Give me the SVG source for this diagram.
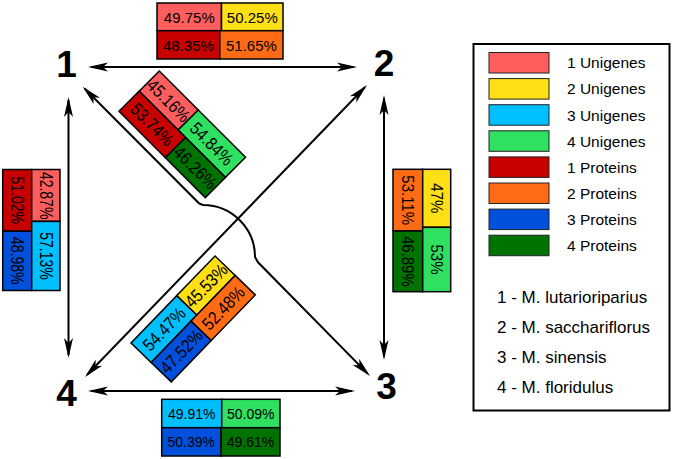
<svg xmlns="http://www.w3.org/2000/svg" width="675" height="459" viewBox="0 0 675 459">
<style>
.c{stroke:#000;stroke-width:1.5}
.t{font-family:"Liberation Sans",Arial,sans-serif;font-size:15px;text-anchor:middle;fill:#000}
.d{font-family:"Liberation Sans",Arial,sans-serif;font-size:15.5px;text-anchor:middle;fill:#000}
.n{font-family:"Liberation Sans",Arial,sans-serif;font-size:37px;font-weight:bold;text-anchor:middle;fill:#000}
.l{font-family:"Liberation Sans",Arial,sans-serif;font-size:15.5px;fill:#000}
.s{font-family:"Liberation Sans",Arial,sans-serif;font-size:17px;fill:#000}
.u1{fill:#FF5E5E}.u2{fill:#FFDF15}.u3{fill:#00BFFF}.u4{fill:#30E060}
.p1{fill:#C80000}.p2{fill:#FF6B14}.p3{fill:#0050DC}.p4{fill:#007200}
.ln{fill:none;stroke:#000;stroke-width:2;marker-start:url(#ah);marker-end:url(#ah)}
</style>
<defs>
<marker id="ah" viewBox="-21 -5 22 10" refX="-3" refY="0" markerWidth="22" markerHeight="10" markerUnits="userSpaceOnUse" orient="auto-start-reverse">
<path d="M0,0 L-20,-4.5 L-15,0 L-20,4.5 Z" fill="#000"/>
</marker>
</defs>

<g id="connectors">
<path class="ln" d="M91,67 L354,67"/>
<path class="ln" d="M91,391 L352,391"/>
<path class="ln" d="M68.5,100 L68.5,355"/>
<path class="ln" d="M384,98 L384,357"/>
<path class="ln" d="M364.9,87.2 L87.1,374.8"/>
<path class="ln" d="M84.8,88.8 L199,203.3 L203,205 A52,52 0 0 1 255,257 L258,262.3 L367.9,373.9"/>
</g>

<g id="node1"><text class="n" x="66.5" y="77">1</text></g>
<g id="node2"><text class="n" x="384" y="76">2</text></g>
<g id="node3"><text class="n" x="386.5" y="399">3</text></g>
<g id="node4"><text class="n" x="66.5" y="406">4</text></g>

<g id="box12">
<rect class="c u1" x="157" y="3" width="64.5" height="27.7"/>
<rect class="c u2" x="221.5" y="3" width="61.5" height="27.7"/>
<rect class="c p1" x="157" y="30.7" width="62.8" height="28.3"/>
<rect class="c p2" x="219.8" y="30.7" width="63.2" height="28.3"/>
<text class="t" x="189.3" y="23.3">49.75%</text>
<text class="t" x="252.3" y="23.3">50.25%</text>
<text class="t" x="188.4" y="50.5">48.35%</text>
<text class="t" x="251.4" y="50.5">51.65%</text>
</g>

<g id="box34">
<rect class="c u3" x="161.7" y="399.3" width="60" height="28.4"/>
<rect class="c u4" x="221.7" y="399.3" width="58.3" height="28.4"/>
<rect class="c p3" x="161.7" y="427.7" width="59.3" height="28.3"/>
<rect class="c p4" x="221" y="427.7" width="59" height="28.3"/>
<text class="t" style="font-size:14px" x="191.7" y="418.5">49.91%</text>
<text class="t" style="font-size:14px" x="250.8" y="418.5">50.09%</text>
<text class="t" style="font-size:14px" x="191.3" y="447">50.39%</text>
<text class="t" style="font-size:14px" x="250.5" y="447">49.61%</text>
</g>

<g id="box14">
<rect class="c p1" x="2.7" y="169.5" width="29" height="61.7"/>
<rect class="c p3" x="2.7" y="231.2" width="29" height="59.3"/>
<rect class="c u1" x="31.7" y="169.5" width="28.3" height="51.9"/>
<rect class="c u3" x="31.7" y="221.4" width="28.3" height="69.1"/>
<text class="t" style="font-size:14px" transform="translate(17.2,200.3) rotate(90) scale(1,1.25)" y="5">51.02%</text>
<text class="t" style="font-size:14px" transform="translate(17.2,260.8) rotate(90) scale(1,1.25)" y="5">48.98%</text>
<text class="t" style="font-size:14px" transform="translate(45.8,195.6) rotate(90) scale(1,1.25)" y="5">42.87%</text>
<text class="t" style="font-size:14px" transform="translate(45.8,256) rotate(90) scale(1,1.25)" y="5">57.13%</text>
</g>

<g id="box23">
<rect class="c p2" x="393" y="169.3" width="29.7" height="61.7"/>
<rect class="c p4" x="393" y="231" width="29.7" height="60.7"/>
<rect class="c u2" x="422.7" y="169.3" width="28" height="58"/>
<rect class="c u4" x="422.7" y="227.3" width="28" height="64.4"/>
<text class="t" transform="translate(407.8,200.2) rotate(90) scale(1,1.1)" y="5.3">53.11%</text>
<text class="t" transform="translate(407.8,261.3) rotate(90) scale(1,1.1)" y="5.3">46.89%</text>
<text class="t" transform="translate(436.7,198.3) rotate(90) scale(1,1.1)" y="5.3">47%</text>
<text class="t" transform="translate(436.7,259.5) rotate(90) scale(1,1.1)" y="5.3">53%</text>
</g>

<g id="box13" transform="translate(159.3,71) rotate(45)">
<rect class="c u1" x="0" y="0" width="55.1" height="28.5"/>
<rect class="c u4" x="55.1" y="0" width="66.9" height="28.5"/>
<rect class="c p1" x="0" y="28.5" width="65.6" height="28.5"/>
<rect class="c p4" x="65.6" y="28.5" width="56.4" height="28.5"/>
<text class="d" transform="translate(27.5,14.25) scale(1,1.15)" y="5.5">45.16%</text>
<text class="d" transform="translate(88.5,14.25) scale(1,1.15)" y="5.5">54.84%</text>
<text class="d" transform="translate(32.8,42.75) scale(1,1.15)" y="5.5">53.74%</text>
<text class="d" transform="translate(93.8,42.75) scale(1,1.15)" y="5.5">46.26%</text>
</g>

<g id="box24" transform="translate(131,343) rotate(-46)">
<rect class="c u3" x="0" y="0" width="65.9" height="28"/>
<rect class="c u2" x="65.9" y="0" width="55.1" height="28"/>
<rect class="c p3" x="0" y="28" width="57.5" height="28"/>
<rect class="c p2" x="57.5" y="28" width="63.5" height="28"/>
<text class="d" transform="translate(33,14) scale(1,1.15)" y="5.5">54.47%</text>
<text class="d" transform="translate(93.4,14) scale(1,1.15)" y="5.5">45.53%</text>
<text class="d" transform="translate(28.8,42) scale(1,1.15)" y="5.5">47.52%</text>
<text class="d" transform="translate(89.2,42) scale(1,1.15)" y="5.5">52.48%</text>
</g>

<g id="legend">
<rect x="473.5" y="44" width="196" height="366.5" fill="#fff" stroke="#000" stroke-width="2"/>
<rect class="u1" x="489" y="52.5" width="60" height="20.5" stroke="#222" stroke-width="1"/>
<rect class="u2" x="489" y="78.6" width="60" height="20.5" stroke="#222" stroke-width="1"/>
<rect class="u3" x="489" y="104.7" width="60" height="20.5" stroke="#222" stroke-width="1"/>
<rect class="u4" x="489" y="130.8" width="60" height="20.5" stroke="#222" stroke-width="1"/>
<rect class="p1" x="489" y="156.9" width="60" height="20.5" stroke="#222" stroke-width="1"/>
<rect class="p2" x="489" y="183" width="60" height="20.5" stroke="#222" stroke-width="1"/>
<rect class="p3" x="489" y="209.1" width="60" height="20.5" stroke="#222" stroke-width="1"/>
<rect class="p4" x="489" y="235.2" width="60" height="20.5" stroke="#222" stroke-width="1"/>
<text class="l" x="567" y="68.3">1 Unigenes</text>
<text class="l" x="567" y="94.4">2 Unigenes</text>
<text class="l" x="567" y="120.5">3 Unigenes</text>
<text class="l" x="567" y="146.6">4 Unigenes</text>
<text class="l" x="567" y="172.7">1 Proteins</text>
<text class="l" x="567" y="198.8">2 Proteins</text>
<text class="l" x="567" y="224.9">3 Proteins</text>
<text class="l" x="567" y="251">4 Proteins</text>
<text class="s" x="497" y="303.3">1 - M. lutarioriparius</text>
<text class="s" x="497" y="333.3">2 - M. sacchariflorus</text>
<text class="s" x="497" y="363.3">3 - M. sinensis</text>
<text class="s" x="497" y="392.7">4 - M. floridulus</text>
</g>
</svg>
